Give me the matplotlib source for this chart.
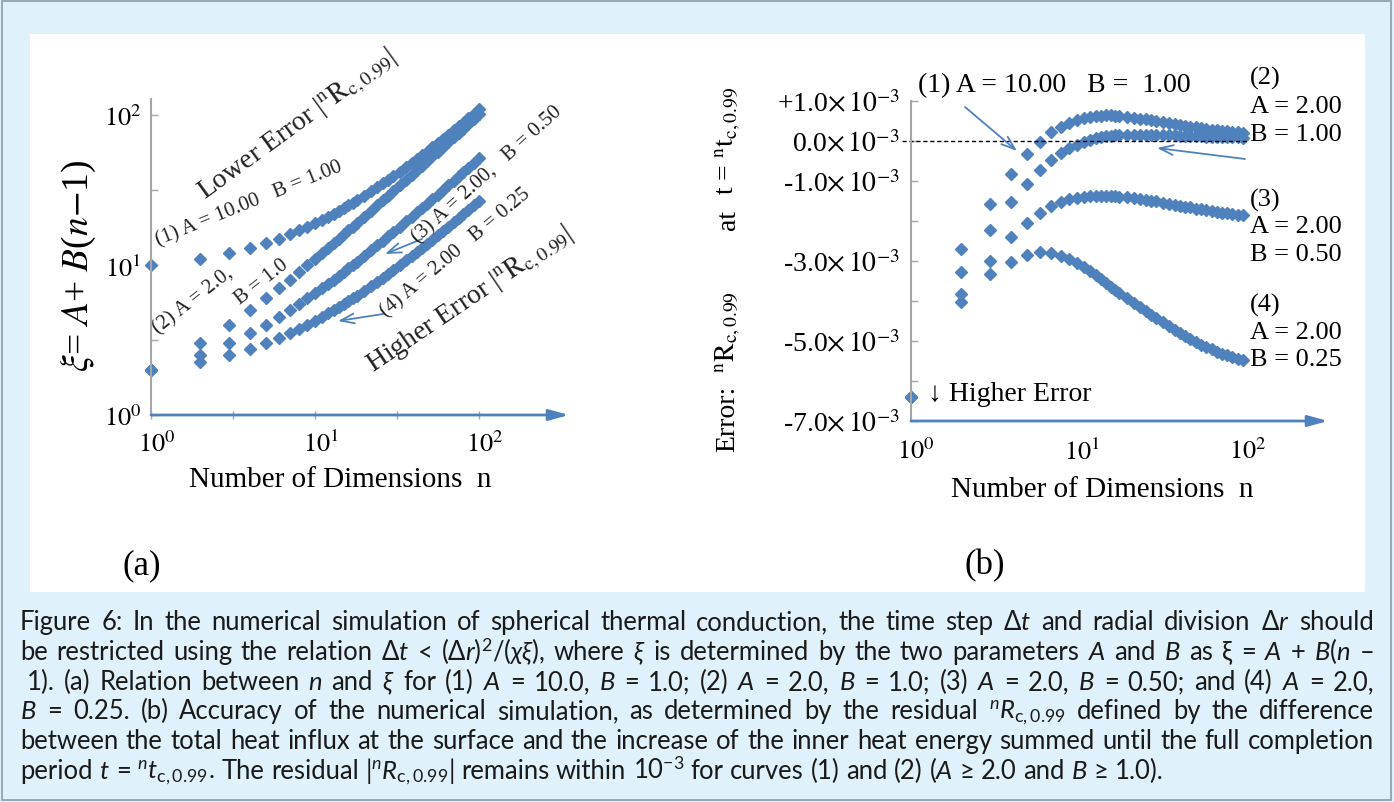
import numpy as np
import matplotlib
matplotlib.use('Agg')
import matplotlib.pyplot as plt
import matplotlib.transforms as mtransforms
from matplotlib.patches import Rectangle
from matplotlib.ticker import FixedLocator, NullFormatter

# ---- data -------------------------------------------------------------
# number of dimensions n (same grid for both panels)
n_vals = [1, 2, 3, 4, 5, 6, 7, 8, 9, 10, 11, 12, 13, 14, 15, 16, 17, 18, 20, 22,
          24, 26, 28, 30, 33, 36, 39, 42, 45, 48, 52, 56, 60, 65, 70, 75, 80, 86, 93, 100]

# panel (a): xi
xi_1 = [10, 11, 12, 13, 14, 15, 16, 17, 18, 19, 20, 21, 22, 23, 24, 25, 26, 27, 29, 31,
        33, 35, 37, 39, 42, 45, 48, 51, 54, 57, 61, 65, 69, 74, 79, 84, 89, 95, 102, 109]
xi_2 = [2, 3, 4, 5, 6, 7, 8, 9, 10, 11, 12, 13, 14, 15, 16, 17, 18, 19, 21, 23,
        25, 27, 29, 31, 34, 37, 40, 43, 46, 49, 53, 57, 61, 66, 71, 76, 81, 87, 94, 101]
xi_3 = [2, 2.5, 3, 3.5, 4, 4.5, 5, 5.5, 6, 6.5, 7, 7.5, 8, 8.5, 9, 9.5, 10, 10.5, 11.5, 12.5,
        13.5, 14.5, 15.5, 16.5, 18, 19.5, 21, 22.5, 24, 25.5, 27.5, 29.5, 31.5, 34, 36.5, 39, 41.5, 44.5, 48, 51.5]
xi_4 = [2, 2.25, 2.5, 2.75, 3, 3.25, 3.5, 3.75, 4, 4.25, 4.5, 4.75, 5, 5.25, 5.5, 5.75, 6, 6.25, 6.75, 7.25,
        7.75, 8.25, 8.75, 9.25, 10, 10.75, 11.5, 12.25, 13, 13.75, 14.75, 15.75, 16.75, 18, 19.25, 20.5, 21.75, 23.25, 25, 26.75]

# panel (b): residual in units of 1e-3
res_1 = [np.nan, -2.70, -1.57, -0.83, -0.33, -0.03, 0.22, 0.35, 0.45, 0.52, 0.57, 0.60, 0.62, 0.63, 0.64, 0.64, 0.63, 0.62, 0.60, 0.58,
         0.56, 0.54, 0.52, 0.50, 0.47, 0.45, 0.42, 0.40, 0.38, 0.36, 0.34, 0.32, 0.30, 0.28, 0.27, 0.25, 0.24, 0.23, 0.22, 0.21]
res_2 = [-6.4, -3.28, -2.22, -1.53, -1.08, -0.73, -0.47, -0.30, -0.18, -0.09, -0.02, 0.03, 0.07, 0.10, 0.12, 0.13, 0.14, 0.15, 0.16, 0.16,
         0.16, 0.16, 0.15, 0.15, 0.15, 0.14, 0.14, 0.13, 0.13, 0.13, 0.12, 0.12, 0.11, 0.11, 0.10, 0.10, 0.10, 0.09, 0.09, 0.08]
res_3 = [-6.4, -3.83, -2.99, -2.41, -2.05, -1.80, -1.63, -1.52, -1.46, -1.42, -1.40, -1.38, -1.37, -1.37, -1.37, -1.38, -1.38, -1.39, -1.41, -1.43,
         -1.45, -1.47, -1.49, -1.51, -1.54, -1.57, -1.60, -1.62, -1.64, -1.66, -1.69, -1.71, -1.73, -1.76, -1.78, -1.80, -1.81, -1.83, -1.85, -1.86]
res_4 = [-6.4, -4.03, -3.33, -3.02, -2.84, -2.78, -2.80, -2.87, -2.95, -3.05, -3.15, -3.25, -3.35, -3.45, -3.55, -3.64, -3.72, -3.80, -3.93, -4.05,
         -4.15, -4.25, -4.34, -4.42, -4.53, -4.63, -4.72, -4.80, -4.87, -4.94, -5.02, -5.09, -5.15, -5.21, -5.27, -5.32, -5.36, -5.40, -5.44, -5.47]

log_ticks = [1, 10, 100]
log_labels = ['$10^{0}$', '$10^{1}$', '$10^{2}$']
res_ticks = [-7, -6, -5, -4, -3, -2, -1, 0, 1]
res_labels = ['-7.0', '', '-5.0', '', '-3.0', '', '-1.0', '0.0', '+1.0']

cap_lines = [
    r"Figure 6: In the numerical simulation of spherical thermal conduction, the time step Δ$t$ and radial division Δ$r$ should",
    r"be restricted using the relation Δ$t$ < (Δ$r)^{2}/(\chi\xi)$, where $\xi$ is determined by the two parameters $A$ and $B$ as ξ = $A$ + $B$($n$ –",
    r"1). (a) Relation between $n$ and $\xi$ for (1) $A$ = 10.0, $B$ = 1.0; (2) $A$ = 2.0, $B$ = 1.0; (3) $A$ = 2.0, $B$ = 0.50; and (4) $A$ = 2.0,",
    r"$B$ = 0.25. (b) Accuracy of the numerical simulation, as determined by the residual ${}^{n}R_{\mathrm{c,0.99}}$ defined by the difference",
    r"between the total heat influx at the surface and the increase of the inner heat energy summed until the full completion",
    r"period $t$ = ${}^{n}t_{\mathrm{c,0.99}}$. The residual |${}^{n}R_{\mathrm{c,0.99}}$| remains within 10$^{-3}$ for curves (1) and (2) ($A$ ≥ 2.0 and $B$ ≥ 1.0).",
]

# ---- style ------------------------------------------------------------
blue = '#4f81bd'
grey = '#a6a6a6'
serif = ['Liberation Serif', 'DejaVu Serif']
cap_font = ['Lato', 'DejaVu Sans']

plt.rcParams['font.family'] = serif
plt.rcParams['mathtext.fontset'] = 'stix'
plt.rcParams['mathtext.rm'] = 'Lato'
plt.rcParams['mathtext.it'] = 'Lato:italic'
plt.rcParams['mathtext.bf'] = 'Lato:bold'
plt.rcParams['mathtext.fallback'] = 'stixsans'

W, H = 1394, 803
fig = plt.figure(figsize=(W / 100, H / 100), dpi=100)
fig.patch.set_facecolor('#dff1fa')


def fx(px):
    return px / W


def fy(py):
    return 1 - py / H


fig.add_artist(Rectangle((fx(30), fy(593)), (1365 - 30) / W, (593 - 35) / H,
                         transform=fig.transFigure, facecolor='white', edgecolor='none', zorder=-5))
fig.add_artist(Rectangle((fx(2), fy(801)), (1391 - 2) / W, (801 - 2) / H, transform=fig.transFigure,
                         fill=False, edgecolor='#8e9ba5', lw=1.2, zorder=-4))

arrow_kw = dict(arrowstyle='-|>,head_length=0.8,head_width=0.22', color=blue, lw=2,
                shrinkA=0, shrinkB=0, mutation_scale=15)
note_kw = dict(arrowstyle='->,head_length=0.7,head_width=0.25', color=blue, lw=1.3,
               shrinkA=0, shrinkB=0, mutation_scale=14)
mark_kw = dict(ls='none', marker='D', ms=6.5, color=blue, mec=blue, clip_on=False)


def style_axis(ax, xoff):
    for s in ('top', 'right', 'bottom'):
        ax.spines[s].set_visible(False)
    ax.spines['left'].set_color(grey)
    ax.spines['left'].set_linewidth(1.5)
    ax.patch.set_alpha(0)
    ax.annotate('', xy=(1, 0), xytext=(0, 0), xycoords='axes fraction',
                arrowprops=arrow_kw, annotation_clip=False)
    off = mtransforms.ScaledTranslation(xoff / 100, 0, fig.dpi_scale_trans)
    for lab in ax.get_xticklabels():
        lab.set_transform(lab.get_transform() + off)


# ---- panel (a) --------------------------------------------------------
ax_a = fig.add_axes([fx(151), fy(416), (569 - 151) / W, (416 - 100) / H])
ax_a.set_xscale('log')
ax_a.set_yscale('log')
ax_a.set_xlim(1, 10 ** (418 / 164))
ax_a.set_ylim(1, 10 ** (316 / 150))
for xi in (xi_1, xi_2, xi_3, xi_4):
    ax_a.plot(n_vals, xi, **mark_kw)
ax_a.xaxis.set_major_locator(FixedLocator(log_ticks))
ax_a.xaxis.set_minor_locator(FixedLocator([10 ** 0.5, 10 ** 1.5]))
ax_a.yaxis.set_major_locator(FixedLocator(log_ticks))
ax_a.yaxis.set_minor_locator(FixedLocator([10 ** 0.5, 10 ** 1.5]))
ax_a.xaxis.set_minor_formatter(NullFormatter())
ax_a.yaxis.set_minor_formatter(NullFormatter())
ax_a.set_xticklabels(log_labels)
ax_a.set_yticklabels(log_labels)
ax_a.tick_params(axis='x', which='both', direction='inout', length=6, width=1, color=grey,
                 labelsize=19, pad=8)
ax_a.tick_params(axis='y', which='both', direction='in', length=5, width=1, color=grey,
                 labelsize=19, pad=7)
style_axis(ax_a, 6)

fig.text(fx(340), fy(480), 'Number of Dimensions  n', fontsize=21, ha='center', va='center')
fig.text(fx(78), fy(266), r'$\xi$= $A$+ $B$($n$$-$1)', fontsize=27, rotation=90,
         ha='center', va='center')
fig.text(fx(142), fy(566), '(a)', fontsize=25, ha='center', va='center')

rot_notes = [
    (205, 200, 36, 20, r'Lower Error |${}^{\mathrm{n}}\mathrm{R}_{\mathrm{c,0.99}}$|'),
    (158, 246, 22, 15, '(1) A = 10.00   B = 1.00'),
    (158, 334, 38, 15, '(2) A = 2.0,'),
    (240, 305, 38, 15, 'B = 1.0'),
    (418, 244, 42, 15, '(3) A = 2.00,   B = 0.50'),
    (386, 318, 40, 15, '(4) A = 2.00   B = 0.25'),
    (373, 373, 34, 20, r'Higher Error |${}^{\mathrm{n}}\mathrm{R}_{\mathrm{c,0.99}}$|'),
]
for x, y, rot, size, s in rot_notes:
    fig.text(fx(x), fy(y), s, fontsize=size, rotation=rot, rotation_mode='anchor',
             ha='left', va='baseline', color='#222222')

for (x1, y1), (x2, y2) in [((422, 240), (385, 255)), ((383, 315), (338, 322))]:
    ax_a.annotate('', xy=(x2, H - y2), xytext=(x1, H - y1), xycoords='figure pixels',
                  textcoords='figure pixels', arrowprops=note_kw, annotation_clip=False)

# ---- panel (b) --------------------------------------------------------
ax_b = fig.add_axes([fx(911), fy(422), (1328 - 911) / W, (422 - 102) / H])
ax_b.set_xscale('log')
ax_b.set_xlim(1, 10 ** (417 / 166))
ax_b.set_ylim(-7.0, 1.0)
for res in (res_1, res_2, res_3, res_4):
    ax_b.plot(n_vals, res, **mark_kw)
ax_b.axhline(0, xmin=-0.022, xmax=0.81, color='black', lw=1, ls=(0, (3, 2)), clip_on=False)
ax_b.xaxis.set_major_locator(FixedLocator(log_ticks))
ax_b.xaxis.set_minor_locator(FixedLocator([]))
ax_b.set_xticklabels(log_labels)
ax_b.yaxis.set_major_locator(FixedLocator(res_ticks))
ax_b.set_yticklabels([s + r'$\times\,10^{-3}$' if s else '' for s in res_labels])
ax_b.tick_params(axis='x', which='both', length=0, labelsize=19, pad=12)
ax_b.tick_params(axis='y', direction='in', length=5, width=1, color=grey, labelsize=20, pad=8)
style_axis(ax_b, 5)

fig.text(fx(1102), fy(490), 'Number of Dimensions  n', fontsize=21, ha='center', va='center')
fig.text(fx(985), fy(566), '(b)', fontsize=25, ha='center', va='center')

for y, s in [(419, 'Error:'), (332, r'${}^{\mathrm{n}}\mathrm{R}_{\mathrm{c,0.99}}$'),
             (220, 'at'), (141, r't = ${}^{\mathrm{n}}\mathrm{t}_{\mathrm{c,0.99}}$')]:
    fig.text(fx(728), fy(y), s, fontsize=20, rotation=90, ha='center', va='center')

fig.text(fx(918), fy(86), '(1) A = 10.00   B =  1.00', fontsize=20, ha='left', va='center')
right_notes = [(78, '(2)'), (107, 'A = 2.00'), (135, 'B = 1.00'),
               (200, '(3)'), (227, 'A = 2.00'), (255, 'B = 0.50'),
               (305, '(4)'), (333, 'A = 2.00'), (360, 'B = 0.25')]
for y, s in right_notes:
    fig.text(fx(1250), fy(y), s, fontsize=19, ha='left', va='center')
fig.text(fx(928), fy(395), '↓ Higher Error', fontsize=20, ha='left', va='center')

for (x1, y1), (x2, y2) in [((965, 108), (1017, 152)), ((1245, 160), (1157, 149))]:
    ax_b.annotate('', xy=(x2, H - y2), xytext=(x1, H - y1), xycoords='figure pixels',
                  textcoords='figure pixels', arrowprops=note_kw, annotation_clip=False)

# ---- caption (justified word by word) ----------------------------------
renderer = fig.canvas.get_renderer()
cap_y = [624, 654, 684, 713, 743, 773]
cap_x0 = [20, 20, 27, 20, 20, 20]
cap_x1 = 1374


def cap_text(s, size):
    return fig.text(0, 0, s, fontsize=size, family=cap_font, math_fontfamily='custom',
                    ha='left', va='baseline', color='#1a1a1a')


def width(t):
    return t.get_window_extent(renderer).width


size0 = 14
rows = []
for line, y in zip(cap_lines, cap_y):
    rows.append([cap_text(tok, size0) for tok in line.split()])

probe_a, probe_b = cap_text('a a', size0), cap_text('aa', size0)
space0 = width(probe_a) - width(probe_b)
natural = sum(width(t) for t in rows[-1]) + space0 * (len(rows[-1]) - 1)
size = size0 * 1152 / natural
probe_a.set_fontsize(size)
probe_b.set_fontsize(size)
space = width(probe_a) - width(probe_b)
probe_a.remove()
probe_b.remove()

for i, (toks, y) in enumerate(zip(rows, cap_y)):
    for t in toks:
        t.set_fontsize(size)
    ws = [width(t) for t in toks]
    if i < len(rows) - 1:
        gap = (cap_x1 - cap_x0[i] - sum(ws)) / (len(toks) - 1)
    else:
        gap = space
    x = cap_x0[i]
    for t, w in zip(toks, ws):
        t.set_position((fx(x), fy(y + 6)))
        x += w + gap

fig.savefig('out.png', dpi=100)
